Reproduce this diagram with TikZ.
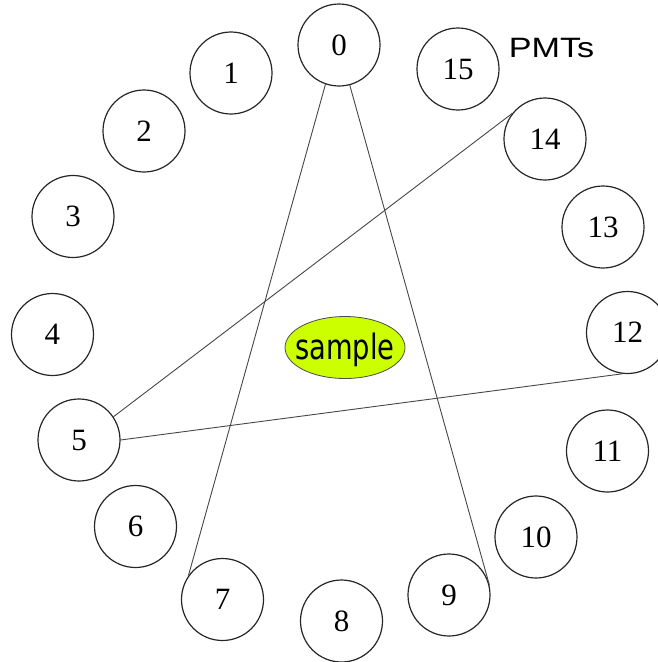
\documentclass[tikz,border=0pt]{standalone}
\usepackage{fontspec}
\setmainfont{Liberation Serif}
\newfontfamily\labelsans{Liberation Sans}
\newfontfamily\samplesans{DejaVu Sans}
\usetikzlibrary{shapes.geometric}
\definecolor{samplefill}{RGB}{204,255,0}
\definecolor{linegray}{RGB}{70,70,70}
\tikzset{
  pmt/.style={circle,draw=black!85,line width=1.2pt,minimum size=82pt,inner sep=0pt,
    font=\fontsize{31}{31}\selectfont},
  ray/.style={draw=linegray,line width=0.9pt},
  samplebox/.style={ellipse,draw=black!70,line width=0.8pt,fill=samplefill,
    minimum width=120pt,minimum height=62pt,inner sep=0pt},
}
\begin{document}
\begin{tikzpicture}[x=1pt,y=-1pt]
\useasboundingbox (0,0) rectangle (657,662);
\node[pmt] (n0)  at (339,45)    {0};
\node[pmt] (n1)  at (231,73)    {1};
\node[pmt] (n2)  at (144,131)   {2};
\node[pmt] (n3)  at (73,216.5)  {3};
\node[pmt] (n4)  at (52.5,334.5){4};
\node[pmt] (n5)  at (79,440)    {5};
\node[pmt] (n6)  at (135.5,526.5){6};
\node[pmt] (n7)  at (222.5,599.5){7};
\node[pmt] (n8)  at (341.5,621) {8};
\node[pmt] (n9)  at (449,595)   {9};
\node[pmt] (n10) at (536,537)   {10};
\node[pmt] (n11) at (607.5,451) {11};
\node[pmt] (n12) at (627.5,332.5){12};
\node[pmt] (n13) at (603,227)   {13};
\node[pmt] (n14) at (545,139)   {14};
\node[pmt] (n15) at (458,69)    {15};
\node[samplebox] (smp) at (345,347.5) {};
\node[font=\samplesans\fontsize{35}{35}\selectfont,xscale=0.78,inner sep=0pt,anchor=base] (smptxt) at (345,359) {sample};
\node[font=\labelsans\fontsize{28}{28}\selectfont,xscale=1.22,inner sep=0pt,anchor=base] (pmts) at (551.5,57.5) {PMTs};
\draw[ray] (n0.-109) -- (n7.145);
\draw[ray] (n0.-75) -- (n9.14);
\draw[ray] (n5.34) -- (n14.142);
\draw[ray] (n5.east) -- (n12.-97);
\end{tikzpicture}
\end{document}
